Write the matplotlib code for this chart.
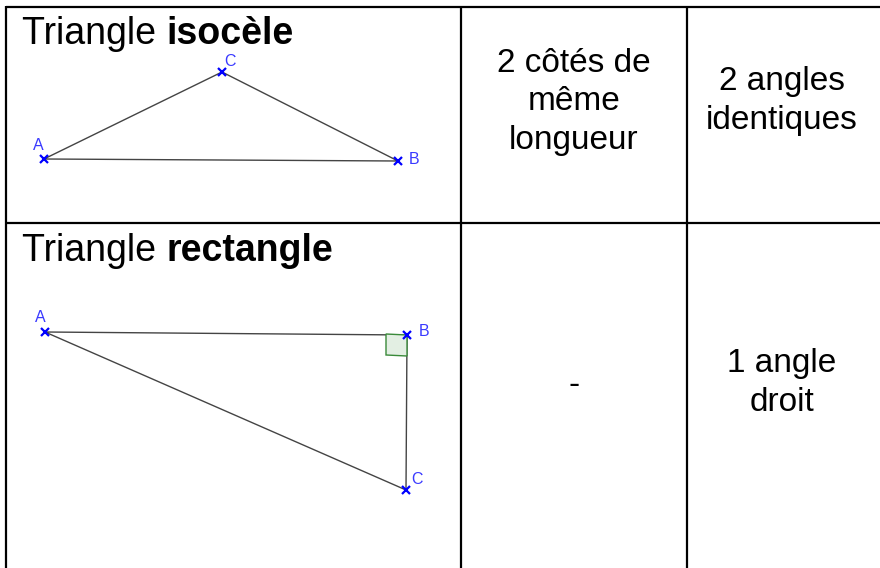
import matplotlib
matplotlib.use("Agg")
import matplotlib.pyplot as plt
from matplotlib.patches import Polygon

plt.rcParams['font.family'] = ['Liberation Sans', 'DejaVu Sans']

# ---- data ----
row_titles_regular = ["Triangle ", "Triangle "]
row_titles_bold = ["isocèle", "rectangle"]
col2_texts = ["2 côtés de\nmême\nlongueur", "-"]
col3_texts = ["2 angles\nidentiques", "1 angle\ndroit"]

# isocele triangle vertices (pixel coords of the drawing)
iso_labels = ["A", "B", "C"]
iso_x = [44, 398, 222]
iso_y = [159, 161, 72]

# right triangle vertices
rect_labels = ["A", "B", "C"]
rect_x = [45, 407, 406]
rect_y = [332, 335, 490]

W, H = 880, 568
fig = plt.figure(figsize=(8.8, 5.68), dpi=100)
ax = fig.add_axes([0, 0, 1, 1])
ax.set_xlim(0, W)
ax.set_ylim(H, 0)
ax.axis('off')

# ---- table grid ----
lw = 1.6
ax.plot([6, W + 5], [7, 7], color='black', lw=lw, solid_capstyle='butt')
ax.plot([6, W + 5], [223, 223], color='black', lw=lw, solid_capstyle='butt')
for x in [6, 461, 687]:
    ax.plot([x, x], [6, H + 5], color='black', lw=lw, solid_capstyle='butt')

# ---- titles ----
title_base = [44, 261]
for reg, bold, yb in zip(row_titles_regular, row_titles_bold, title_base):
    t = ax.text(22, yb, reg, fontsize=27, va='baseline', ha='left')
    fig.canvas.draw()
    bb = t.get_window_extent()
    x_end = ax.transData.inverted().transform((bb.x1, bb.y0))[0]
    ax.text(x_end, yb, bold, fontsize=27, fontweight='bold', va='baseline', ha='left')

# ---- cell texts ----
col2_cy = [102, 385]
col3_cy = [101, 383]
for txt, cy in zip(col2_texts, col2_cy):
    ax.text(574, cy, txt, fontsize=24, ha='center', va='center', linespacing=1.32)
for txt, cy in zip(col3_texts, col3_cy):
    ax.text(782, cy, txt, fontsize=24, ha='center', va='center', linespacing=1.32)

line_col = '#444444'
pt_col = '#0000ff'
lab_col = '#3a3aff'

def draw_tri(xs, ys, labels, offsets):
    ax.add_patch(Polygon(list(zip(xs, ys)), closed=True, fill=False,
                         edgecolor=line_col, lw=1.0, zorder=2))
    ax.plot(xs, ys, linestyle='none', marker='x', color=pt_col, ms=6, mew=1.6, zorder=4)
    for x, y, lab, (dx, dy) in zip(xs, ys, labels, offsets):
        ax.text(x + dx, y + dy, lab, color=lab_col, fontsize=11.5, ha='center', va='center')

draw_tri(iso_x, iso_y, iso_labels, [(-6, -14), (16, -2), (8, -11)])

# right angle marker at B
sq = 21
bx, by = rect_x[1], rect_y[1]
ax.add_patch(Polygon([(bx - sq, by - 1), (bx, by), (bx, by + sq), (bx - sq, by + sq - 1)],
                     closed=True, facecolor='#e3efe3', edgecolor='#3a8a3a', lw=1.0, zorder=3))
draw_tri(rect_x, rect_y, rect_labels, [(-5, -14), (17, -3), (11, -11)])

fig.savefig('out.png', dpi=100)
